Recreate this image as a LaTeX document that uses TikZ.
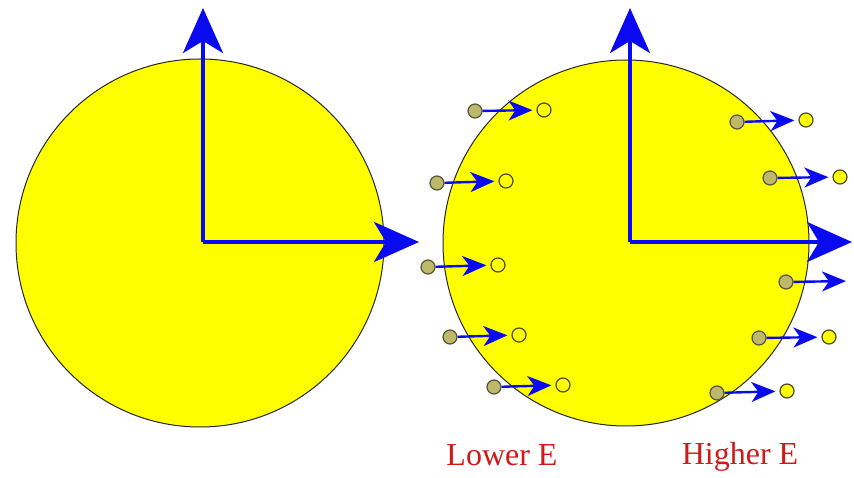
\documentclass[tikz,border=0pt]{standalone}
\usepackage{fontspec}
\setmainfont{Liberation Serif}
\usetikzlibrary{arrows.meta}
\begin{document}
\begin{tikzpicture}[x=1pt,y=-1pt, every node/.style={inner sep=0pt},
  ball/.style={circle, draw=ptEdge, fill=ptFill, line width=1.2pt, minimum size=14pt},
  hole/.style={circle, draw=ptRim, fill=sunYellow, line width=1.2pt, minimum size=14pt},
  kick/.style={-{Stealth[length=24pt,width=20pt,inset=7pt]}, axBlue, line width=2.4pt, shorten >=4pt},
  axis/.style={-{Stealth[length=45pt,width=40pt,inset=12pt]}, axBlue, line width=4pt},
  elabel/.style={font=\fontsize{32}{36}\selectfont, textRed, anchor=base}]
  \definecolor{sunYellow}{HTML}{FFFF00}
  \definecolor{axBlue}{HTML}{0A0AF0}
  \definecolor{ptFill}{HTML}{BDB86A}
  \definecolor{ptEdge}{HTML}{55553A}
  \definecolor{ptRim}{HTML}{4A4A20}
  \definecolor{textRed}{HTML}{D01818}
  \useasboundingbox (0,0) rectangle (854,478);
  % the two nuclei
  \filldraw[fill=sunYellow, draw=black!85, line width=1pt] (200,243) circle[radius=184];
  \filldraw[fill=sunYellow, draw=black!85, line width=1pt] (626,243) circle[radius=183];
  % axes
  \coordinate (oL) at (203,242);
  \coordinate (upL) at (203,8);
  \coordinate (rtL) at (419,242);
  \coordinate (oR) at (630,242);
  \coordinate (upR) at (630,8);
  \coordinate (rtR) at (852,242);
  \draw[axis] (oL) -- (upL);
  \draw[axis] (oL) -- (rtL);
  \draw[axis] (oR) -- (upR);
  \draw[axis] (oR) -- (rtR);
  % particles kicked outwards
  \foreach \i/\xa/\ya/\xb/\yb in {
    1/475/111/544/110, 2/437/183/506/181, 3/428/267/498/265,
    4/450/337/519/335, 5/494/387/563/385, 6/737/122/806/120,
    7/770/178/840/177, 9/759/338/829/337, 10/717/393/787/391
  }{
    \node[ball] (s\i) at (\xa,\ya) {};
    \node[hole] (e\i) at (\xb,\yb) {};
    \draw[kick] (s\i) -- (e\i);
  }
  \node[ball] (s8) at (786,282) {};
  \coordinate (e8) at (850,281);
  \draw[kick] (s8) -- (e8);
  % labels
  \node[elabel] (lowE) at (502,465) {Lower E};
  \node[elabel] (highE) at (740,464) {Higher E};
\end{tikzpicture}
\end{document}
